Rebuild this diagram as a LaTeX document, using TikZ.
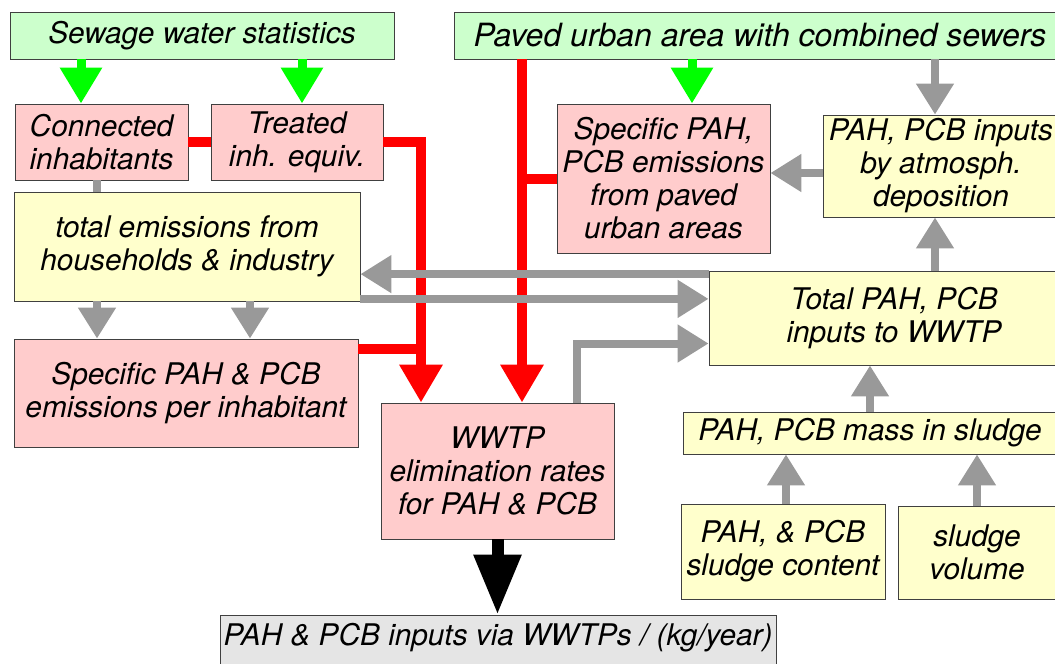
\documentclass[tikz,border=0pt]{standalone}
\usepackage{fontspec}
\setmainfont{TeX Gyre Heros}
\usetikzlibrary{arrows.meta}

\definecolor{pinkfill}{RGB}{255,204,204}
\definecolor{yellowfill}{RGB}{255,255,204}
\definecolor{greenfill}{RGB}{204,255,204}
\definecolor{grayfill}{RGB}{229,229,229}
\definecolor{flowgray}{RGB}{153,153,153}
\definecolor{flowred}{RGB}{255,0,0}
\definecolor{flowgreen}{RGB}{0,255,0}

\tikzset{
  box/.style={draw=black!75, line width=0.8pt, rectangle, inner sep=0pt,
    align=center, font=\fontsize{29.8}{33}\selectfont\itshape},
  pinkbox/.style={box, fill=pinkfill},
  yellowbox/.style={box, fill=yellowfill},
  greenbox/.style={box, fill=greenfill},
  graybox/.style={box, fill=grayfill},
  label text/.style={inner sep=0pt, align=center, font=\fontsize{29.8}{33}\selectfont\itshape},
  greenflow/.style={draw=flowgreen, line width=9pt, -{Triangle[length=36pt,width=40pt]}},
  redline/.style={draw=flowred, line width=10pt},
  redflow/.style={redline, -{Triangle[length=38pt,width=41pt]}},
  grayline/.style={draw=flowgray, line width=8pt},
  grayflow/.style={grayline, -{Triangle[length=31pt,width=36pt]}},
  blackflow/.style={draw=black, line width=12pt, -{Triangle[length=60pt,width=45pt]}},
}

\begin{document}
\begin{tikzpicture}[x=1pt, y=-1pt]
\useasboundingbox (0,0) rectangle (1055,664);

% data sources
\node[greenbox, minimum width=384pt, minimum height=47pt] (sws) at (202,35.5) {Sewage water statistics};
\node[greenbox, minimum width=612pt, minimum height=47pt, font=\fontsize{32}{35}\selectfont\itshape] (pua) at (760,35.5) {Paved urban area with combined sewers};

% household side
\node[pinkbox, minimum width=173pt, minimum height=76pt] (conn) at (101.5,142) {Connected\\inhabitants};
\node[pinkbox, minimum width=172pt, minimum height=76pt] (treat) at (297,142) {Treated\\inh. equiv.};
\node[yellowbox, minimum width=346pt, minimum height=109pt] (totem) at (187,246.5) {total emissions from\\households \& industry};
\node[pinkbox, minimum width=344pt, minimum height=108pt] (spinh) at (186,393) {Specific PAH \& PCB\\emissions per inhabitant};

% urban runoff side
\node[pinkbox, minimum width=213pt, minimum height=149pt] (sppav) at (663.5,178.5) {Specific PAH,\\PCB emissions\\from paved\\urban areas};
\node[yellowbox, minimum width=236pt, minimum height=102pt] (dep) at (941,166) {PAH, PCB inputs\\by atmosph.\\deposition};

% treatment plant
\node[yellowbox, minimum width=370pt, minimum height=94pt] (total) at (894,318) {Total PAH, PCB\\inputs to WWTP};
\node[pinkbox, minimum width=233pt, minimum height=136pt] (wwtp) at (497.5,471) {WWTP\\elimination rates\\for PAH \& PCB};

% sludge
\node[yellowbox, minimum width=374pt, minimum height=42pt] (mass) at (870,433) {PAH, PCB mass in sludge};
\node[yellowbox, minimum width=204pt, minimum height=95pt] (cont) at (783,551.5) {PAH, \& PCB\\sludge content};
\node[yellowbox, minimum width=158pt, minimum height=93pt] (vol) at (977,552.5) {sludge\\volume};

% result
\node[graybox, minimum width=556pt, minimum height=65pt] (final) at (498,647.5) {};
\node[label text] (finaltxt) at (498,638) {PAH \& PCB inputs via WWTPs / (kg/year)};

% reference points on the box edges
\path ([xshift=-20.5pt]conn.north) coordinate (g1)
      ([xshift=5pt]treat.north) coordinate (g2)
      ([xshift=28.5pt]sppav.north) coordinate (g3)
      ([xshift=-76.5pt]wwtp.north) coordinate (r2)
      ([yshift=44pt]spinh.east) coordinate (r3)
      ([xshift=24.5pt]wwtp.north) coordinate (r4)
      ([xshift=-4.5pt]conn.south) coordinate (k1)
      ([xshift=-89pt]spinh.north) coordinate (k2)
      ([xshift=64pt]spinh.north) coordinate (k3)
      ([yshift=-3.5pt]total.north west) coordinate (k4)
      ([yshift=2.5pt]totem.south east) coordinate (k5)
      ([xshift=79.5pt]wwtp.north) coordinate (k6)
      ([yshift=-25.5pt]total.west) coordinate (k6b)
      ([xshift=41pt]total.north) coordinate (k7)
      ([yshift=-7pt]dep.west) coordinate (k8)
      ([xshift=-6pt]dep.north) coordinate (k9)
      ([xshift=3pt]cont.north) coordinate (k11);

% statistics feeding the specific values
\draw[greenflow] (g1 |- sws.south) -- (g1);
\draw[greenflow] (g2 |- sws.south) -- (g2);
\draw[greenflow] (g3 |- pua.south) -- (g3);

% inputs to the elimination rates
\draw[redline] (conn.east) -- (treat.west);
\draw[redflow] (treat.east) -- (r2 |- treat.east) -- (r2);
\draw[redline] (r3) -- (r3 -| r2);
\draw[redflow] (r4 |- pua.south) -- (r4);
\draw[redline] (sppav.west -| r4) -- (sppav.west);

% flows of the mass balance
\draw[grayline] (k1) -- (k1 |- totem.north);
\draw[grayflow] (k2 |- totem.south) -- (k2);
\draw[grayflow] (k3 |- totem.south) -- (k3);
\draw[grayflow] (k4) -- (k4 -| totem.east);
\draw[grayflow] (k5) -- (k5 -| total.west);
\draw[grayflow] (k6) -- (k6 |- k6b) -- (k6b);
\draw[grayflow] (k7) -- (k7 |- dep.south);
\draw[grayflow] (k8) -- (k8 -| sppav.east);
\draw[grayflow] (k9 |- pua.south) -- (k9);
\draw[grayflow] (mass.north) -- (mass.north |- total.south);
\draw[grayflow] (k11) -- (k11 |- mass.south);
\draw[grayflow] (vol.north) -- (vol.north |- mass.south);

% result
\draw[blackflow] (wwtp.south) -- (wwtp.south |- final.north);
\end{tikzpicture}
\end{document}
